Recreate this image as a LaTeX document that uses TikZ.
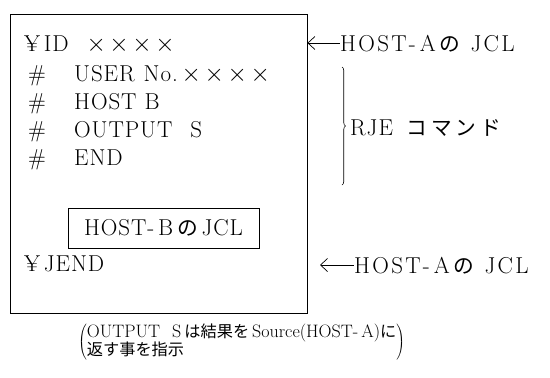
\documentclass[tikz,border=0pt]{standalone}
\usepackage{fontspec}
\setmainfont{Latin Modern Roman}
\newfontfamily\jp{Noto Sans CJK JP}[Scale=0.9]
\usetikzlibrary{arrows.meta,decorations.pathreplacing}
% four spaced multiplication crosses
\newcommand\crossrow{\makebox[23pt]{$\times$}\makebox[23pt]{$\times$}\makebox[23pt]{$\times$}\makebox[23pt]{$\times$}}
\begin{document}
\begin{tikzpicture}[x=1pt,y=-1pt,
  txt/.style={inner sep=0pt, anchor=base west,
    font=\fontsize{23}{26}\selectfont\addfontfeature{LetterSpace=4}},
  wide/.style={txt, font=\fontsize{23}{26}\selectfont\addfontfeature{LetterSpace=10}},
  frame/.style={draw, line width=0.8pt},
  ptr/.style={{Straight Barb[length=7pt,width=13pt]}-, line width=0.7pt},
  brc/.style={decorate, decoration={brace, amplitude=3.5pt}, line width=0.6pt}]
\useasboundingbox (0,0) rectangle (550,378);

% job deck frame
\node[frame, minimum width=297pt, minimum height=299pt, inner sep=0pt] (deck) at (158.5,163.5) {};

% deck lines
\node[txt] (l1) at (24,51) {¥\,ID\hspace{16pt}\crossrow};
\node[txt] (h2) at (28,81) {\#};
\node[txt] (l2) at (74,81) {USER\hspace{9pt}No.\hspace{2pt}\crossrow};
\node[txt] (h3) at (28,109) {\#};
\node[txt] (l3) at (74,109) {HOST\hspace{8pt}B};
\node[txt] (h4) at (28,137) {\#};
\node[txt] (l4) at (74,137) {OUTPUT\hspace{18pt}S};
\node[txt] (h5) at (28,165) {\#};
\node[txt] (l5) at (74,165) {END};

% embedded JCL for host B
\node[frame, line width=0.6pt, minimum width=191pt, minimum height=40pt, inner sep=0pt,
      font=\fontsize{23}{26}\selectfont\addfontfeature{LetterSpace=4}] (jclb) at (163.5,228) {HOST-\,B\,{\jp の}\,JCL};

\node[txt] (l6) at (24,271) {¥\,JEND};

% annotations
\node[wide] (ta) at (340,51) {HOST-\hspace{4pt}A\hspace{4pt}{\jp の}\hspace{10pt}JCL};
\draw[ptr] (deck.east |- 0,43) -- (ta.west |- 0,43);

\coordinate (bt) at (342,67);
\coordinate (bb) at (342,185);
\draw[brc] (bt) -- (bb);
\node[txt] (rje) at (350,135) {RJE\hspace{14pt}{\jp\addfontfeature{LetterSpace=18}コマンド}};

\node[wide] (tb) at (354,273) {HOST-\hspace{4pt}A\hspace{4pt}{\jp の}\hspace{10pt}JCL};
\coordinate (tip) at (320,265);
\draw[ptr] (tip) -- (tb.west |- tip);

% note below
\node[anchor=west, inner sep=0pt, font=\fontsize{18}{20}\selectfont] (note) at (78,342)
  {$\left(\vcenter{\hbox{\begin{tabular}{@{}l@{}}OUTPUT\hspace{12pt}S\,{\jp は結果を}\,Source(HOST-\,A){\jp に}\\[-2pt]{\jp 返す事を指示}\end{tabular}}}\right)$};
\end{tikzpicture}
\end{document}
